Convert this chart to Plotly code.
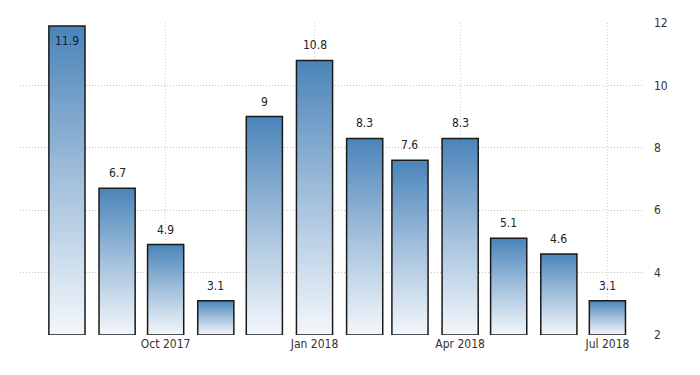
import plotly.graph_objects as go
import pandas as pd

months = ["2017-08-01", "2017-09-01", "2017-10-01", "2017-11-01", "2017-12-01", "2018-01-01",
          "2018-02-01", "2018-03-01", "2018-04-01", "2018-05-01", "2018-06-01", "2018-07-01"]
values = [11.9, 6.7, 4.9, 3.1, 9, 10.8, 8.3, 7.6, 8.3, 5.1, 4.6, 3.1]
labels = ["11.9", "6.7", "4.9", "3.1", "9", "10.8", "8.3", "7.6", "8.3", "5.1", "4.6", "3.1"]
tick_vals = ["2017-10-01", "2018-01-01", "2018-04-01", "2018-07-01"]
tick_text = ["Oct 2017", "Jan 2018", "Apr 2018", "Jul 2018"]
y_ticks = [2, 4, 6, 8, 10, 12]

BASE = 2
half = pd.Timedelta(hours=11 * 24 + 4)
font_family = "DejaVu Sans Condensed, Liberation Sans Narrow, Arial Narrow, sans-serif"

fig = go.Figure()
for m, v in zip(months, values):
    d = pd.Timestamp(m)
    xs = [d - half, d - half, d + half, d + half, d - half]
    ys = [BASE, v, v, BASE, BASE]
    fig.add_trace(go.Scatter(
        x=xs, y=ys, mode="lines", fill="toself",
        line=dict(color="#1a1a1a", width=1.5),
        fillgradient=dict(type="vertical",
                          colorscale=[[0, "#f3f7fb"], [0.5, "#a3c0dc"], [1, "#4a84b9"]]),
        hoverinfo="skip", showlegend=False))

annotations = []
for m, v, t in zip(months, values, labels):
    inside = v > 11.5
    annotations.append(dict(
        x=pd.Timestamp(m), y=v, text=t, showarrow=False,
        xanchor="center", yanchor="top" if inside else "bottom",
        yshift=-6 if inside else 6,
        font=dict(family=font_family, size=12, color="#0d2240" if inside else "#222222")))

fig.update_layout(
    width=700, height=375,
    margin=dict(l=20, r=57, t=23, b=40),
    plot_bgcolor="white", paper_bgcolor="white",
    font=dict(family=font_family, size=12, color="#333333"),
    annotations=annotations,
    xaxis=dict(
        range=["2017-07-03", "2018-07-23"],
        tickvals=tick_vals, ticktext=tick_text,
        showgrid=True, gridcolor="#cccccc", griddash="1px,2px", gridwidth=1,
        zeroline=False, showline=False, ticks="", tickfont=dict(size=12, color="#333333"),
    ),
    yaxis=dict(
        range=[2, 12], side="right", tickvals=y_ticks,
        showgrid=True, gridcolor="#c4c4c4", griddash="1px,2px", gridwidth=1,
        zeroline=False, showline=False, ticks="", ticklabelstandoff=10,
        tickfont=dict(size=12, color="#333333"),
    ),
)

fig.write_html("out.html")
